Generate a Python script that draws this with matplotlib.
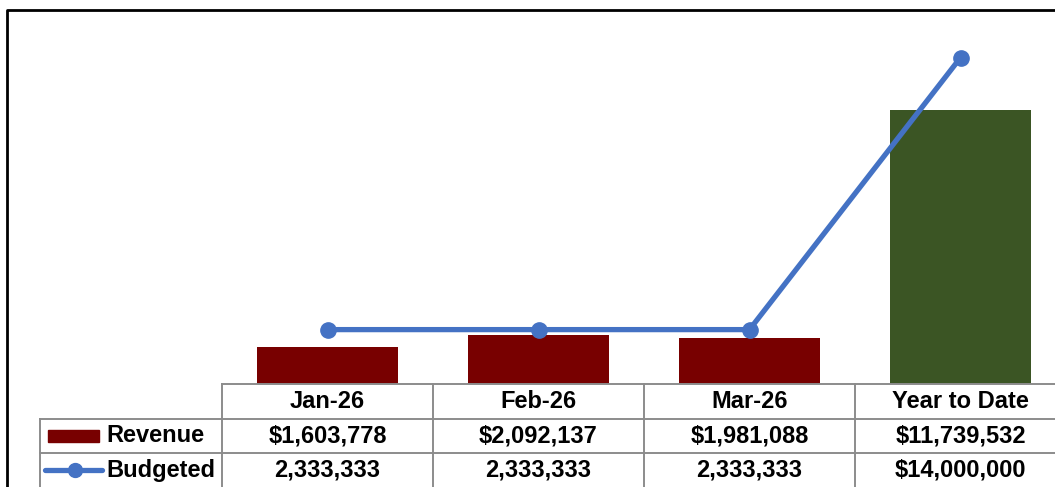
import matplotlib
matplotlib.use("Agg")
import matplotlib.pyplot as plt

# ── data ──────────────────────────────────────────────────────────────────────
categories = ["Jan-26", "Feb-26", "Mar-26", "Year to Date"]
revenue = [1603778, 2092137, 1981088, 11739532]
budgeted = [2333333, 2333333, 2333333, 14000000]
revenue_labels = ["$1,603,778", "$2,092,137", "$1,981,088", "$11,739,532"]
budgeted_labels = ["2,333,333", "2,333,333", "2,333,333", "$14,000,000"]

# ── styling / geometry (pixels) ───────────────────────────────────────────────
W, H = 1055, 487
RED = "#780000"
GREEN = "#3B5524"
BLUE = "#4472C4"
GRID = "#8c8c8c"
FONT = "Liberation Sans"

AX_LEFT = 222
COL_W = 211
BASE = 384
TOP = 11
ROW_H = 34.5
LEG_LEFT = 40

plt.rcParams["font.family"] = [FONT, "DejaVu Sans"]

fig = plt.figure(figsize=(W / 100, H / 100), dpi=100)

n = len(categories)
ax = fig.add_axes([AX_LEFT / W, (H - BASE) / H, COL_W * n / W, (BASE - TOP) / H])
x = list(range(n))
colors = [RED] * (n - 1) + [GREEN]
ax.bar(x, revenue, width=0.665, color=colors, zorder=2)
ax.plot(x, budgeted, color=BLUE, lw=3.8, marker="o", ms=11, zorder=3,
        solid_capstyle="round", clip_on=False)
ax.set_xlim(-0.5, n - 0.5)
ax.set_ylim(0, 16000000)
ax.axis("off")

# ── data table drawn on an overlay in pixel coordinates ──────────────────────
ov = fig.add_axes([0, 0, 1, 1], zorder=5)
ov.set_xlim(0, W)
ov.set_ylim(H, 0)
ov.axis("off")
ov.patch.set_alpha(0)

right = AX_LEFT + COL_W * n
lw = 1.4
# horizontal lines
ov.plot([AX_LEFT, right], [BASE, BASE], color=GRID, lw=lw)
for r in (1, 2):
    y = BASE + ROW_H * r
    ov.plot([LEG_LEFT, right], [y, y], color=GRID, lw=lw)
# vertical lines
for i in range(n + 1):
    xx = AX_LEFT + COL_W * i
    ov.plot([xx, xx], [BASE, H], color=GRID, lw=lw)
ov.plot([LEG_LEFT, LEG_LEFT], [BASE + ROW_H, H], color=GRID, lw=lw)

fs = 17
for i, cat in enumerate(categories):
    cx = AX_LEFT + COL_W * (i + 0.5)
    ov.text(cx, BASE + ROW_H * 0.5, cat, ha="center", va="center",
            fontsize=fs, fontweight="bold")
    ov.text(cx, BASE + ROW_H * 1.5, revenue_labels[i], ha="center", va="center",
            fontsize=fs, fontweight="bold")
    ov.text(cx, BASE + ROW_H * 2.5, budgeted_labels[i], ha="center", va="center",
            fontsize=fs, fontweight="bold")

# legend keys
ry = BASE + ROW_H * 1.5
ov.add_patch(plt.Rectangle((48, ry - 6), 51, 12, color=RED))
ov.text(106, ry, "Revenue", ha="left", va="center", fontsize=fs, fontweight="bold")
by = BASE + ROW_H * 2.5
ov.plot([45, 102], [by, by], color=BLUE, lw=3.8, solid_capstyle="round")
ov.plot([75], [by], color=BLUE, marker="o", ms=10)
ov.text(106, by, "Budgeted", ha="left", va="center", fontsize=fs, fontweight="bold")

# outer chart border (left and top)
ov.plot([7, 7, W], [H, 10, 10], color="black", lw=2)

fig.savefig("out.png", dpi=100)
